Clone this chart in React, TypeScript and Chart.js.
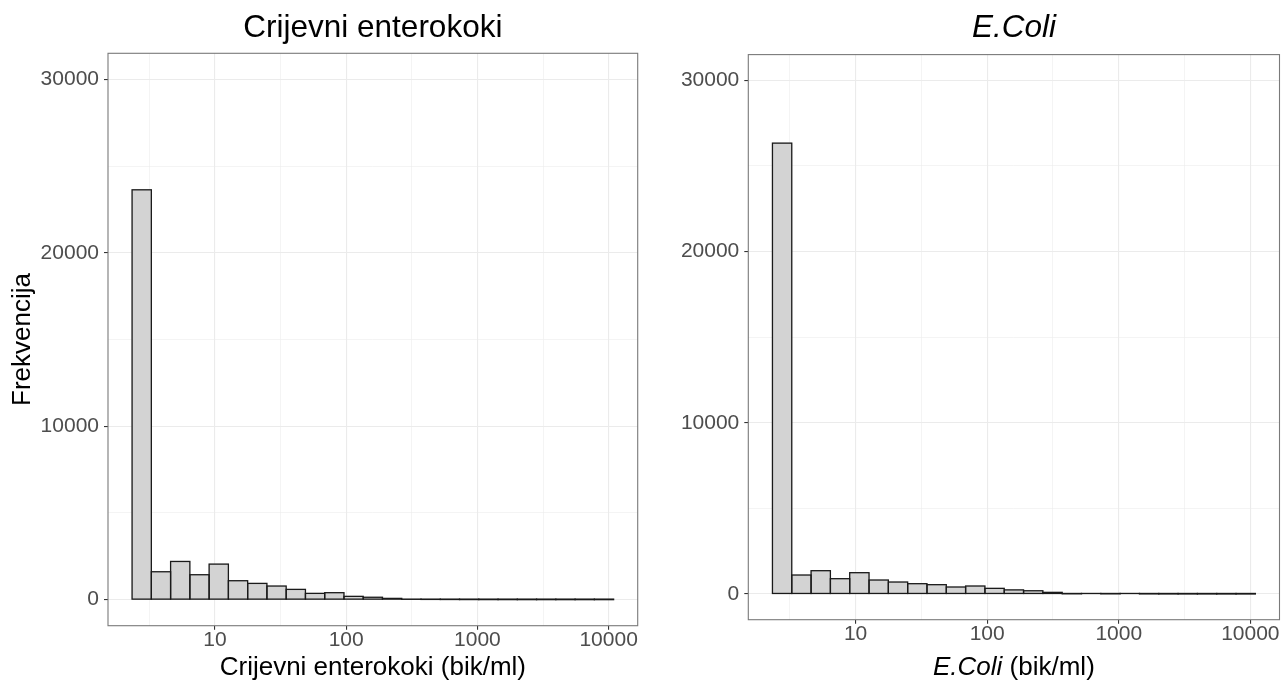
import React, { useEffect, useRef } from "react";
import { Chart, registerables } from "chart.js";

Chart.register(...registerables);

const FONT = '"Liberation Sans", Arial, Helvetica, sans-serif';
Chart.defaults.font.family = FONT;

// Histogram bins on a log10 axis (bik/ml)
const BIN_START_LOG = 0.368; // log10 of the lowest bin edge
const BIN_WIDTH_LOG = 0.1468; // width of one bin in decades
const BIN_COUNT = 25;

// Frequencies per bin
const enterokokiCounts = [
  23630, 1610, 2204, 1438, 2051, 1093, 939, 786, 594, 364, 403, 192, 140, 75, 22, 15, 10, 6, 4, 3,
  2, 2, 1, 1, 1,
];
const ecoliCounts = [
  26330, 1109, 1362, 895, 1245, 817, 700, 603, 545, 409, 467, 331, 240, 190, 97, 12, 30, 10, 30, 6,
  3, 2, 2, 1, 1,
];

// Axis ticks
const xMajorLogs = [1, 2, 3, 4];
const xMajorLabels = ["10", "100", "1000", "10000"];
const xMinorLogs = [0.5, 1.5, 2.5, 3.5];
const yMajorTicks = [0, 10000, 20000, 30000];
const yMinorTicks = [5000, 15000, 25000];
const Y_LIMITS = [0, 30000];

type Seg = { text: string; italic?: boolean };

const binCenters = Array.from({ length: BIN_COUNT }, (_, i) => BIN_START_LOG + (i + 0.5) * BIN_WIDTH_LOG);
const dataMin = BIN_START_LOG;
const dataMax = BIN_START_LOG + BIN_COUNT * BIN_WIDTH_LOG;
const X_MIN = dataMin - 0.05 * (dataMax - dataMin);
const X_MAX = dataMax + 0.05 * (dataMax - dataMin);
const Y_MIN = Y_LIMITS[0] - 0.05 * (Y_LIMITS[1] - Y_LIMITS[0]);
const Y_MAX = Y_LIMITS[1] + 0.05 * (Y_LIMITS[1] - Y_LIMITS[0]);

const xTickList = [...xMinorLogs, ...xMajorLogs].sort((a, b) => a - b);
const yTickList = [...yMinorTicks, ...yMajorTicks].sort((a, b) => a - b);

function drawRich(ctx: CanvasRenderingContext2D, segs: Seg[], cx: number, y: number, size: number) {
  const widths = segs.map((s) => {
    ctx.font = `${s.italic ? "italic " : ""}${size}px ${FONT}`;
    return ctx.measureText(s.text).width;
  });
  const total = widths.reduce((a, b) => a + b, 0);
  let x = cx - total / 2;
  ctx.textAlign = "left";
  ctx.textBaseline = "alphabetic";
  segs.forEach((s, i) => {
    ctx.font = `${s.italic ? "italic " : ""}${size}px ${FONT}`;
    ctx.fillText(s.text, x, y);
    x += widths[i];
  });
}

type PanelProps = {
  left: number;
  counts: number[];
  title: Seg[];
  xTitle: Seg[];
  yTitle?: string;
  yAxisWidth: number;
  padTop: number;
  padRight: number;
  xAxisHeight: number;
};

const W = 641;
const H = 682;

function Panel(p: PanelProps) {
  const ref = useRef<HTMLCanvasElement | null>(null);
  useEffect(() => {
    if (!ref.current) return;
    const outlinePlugin = {
      id: "barOutline",
      afterDatasetsDraw(chart: any) {
        const ctx = chart.ctx as CanvasRenderingContext2D;
        const meta = chart.getDatasetMeta(0);
        ctx.save();
        ctx.strokeStyle = "#1A1A1A";
        ctx.lineWidth = 1.3;
        meta.data.forEach((el: any) => {
          const { x, y, base, width } = el.getProps(["x", "y", "base", "width"], true);
          ctx.strokeRect(x - width / 2, Math.min(y, base), width, Math.abs(base - y));
        });
        ctx.restore();
      },
    };
    const framePlugin = {
      id: "frameAndTitles",
      afterDraw(chart: any) {
        const ctx = chart.ctx as CanvasRenderingContext2D;
        const a = chart.chartArea;
        ctx.save();
        ctx.strokeStyle = "#7A7A7A";
        ctx.lineWidth = 1.1;
        ctx.strokeRect(a.left, a.top, a.right - a.left, a.bottom - a.top);
        ctx.fillStyle = "#000000";
        const cx = (a.left + a.right) / 2;
        drawRich(ctx, p.title, cx, 37, 31.5);
        drawRich(ctx, p.xTitle, cx, 675, 26);
        ctx.restore();
      },
    };
    const chart = new Chart(ref.current, {
      type: "bar",
      data: {
        datasets: [
          {
            data: p.counts.map((c, i) => ({ x: binCenters[i], y: c })),
            backgroundColor: "#D3D3D3",
            borderWidth: 0,
            barPercentage: 1,
            categoryPercentage: 1,
            grouped: false,
          } as any,
        ],
      },
      options: {
        responsive: false,
        animation: false,
        events: [],
        layout: { padding: { top: p.padTop, right: p.padRight, left: 0, bottom: 0 } },
        plugins: {
          legend: { display: false },
          tooltip: { enabled: false },
          title: { display: false },
        },
        scales: {
          x: {
            type: "linear",
            min: X_MIN,
            max: X_MAX,
            offset: false,
            afterBuildTicks: (s: any) => {
              s.ticks = xTickList.map((v) => ({ value: v }));
            },
            afterFit: (s: any) => {
              s.height = p.xAxisHeight;
              s.paddingLeft = 0;
              s.paddingRight = 0;
            },
            ticks: {
              autoSkip: false,
              maxRotation: 0,
              minRotation: 0,
              padding: 0,
              color: "#4D4D4D",
              font: { family: FONT, size: 21, lineHeight: 1 },
              callback: (v: any) => {
                const i = xMajorLogs.indexOf(Number(v));
                return i >= 0 ? xMajorLabels[i] : "";
              },
            },
            grid: {
              offset: false,
              color: "#EBEBEB",
              lineWidth: (c: any) => (xMajorLogs.includes(c.tick?.value) ? 1.1 : 0.55),
              tickLength: 4,
              tickWidth: 1.1,
              tickColor: (c: any) => (xMajorLogs.includes(c.tick?.value) ? "#333333" : "rgba(0,0,0,0)"),
            },
            border: { display: false },
          },
          y: {
            type: "linear",
            min: Y_MIN,
            max: Y_MAX,
            afterBuildTicks: (s: any) => {
              s.ticks = yTickList.map((v) => ({ value: v }));
            },
            afterFit: (s: any) => {
              s.width = p.yAxisWidth;
              s.paddingTop = 0;
              s.paddingBottom = 0;
            },
            ticks: {
              autoSkip: false,
              padding: 5,
              color: "#4D4D4D",
              font: { family: FONT, size: 21 },
              callback: (v: any) => (yMajorTicks.includes(Number(v)) ? String(v) : ""),
            },
            grid: {
              offset: false,
              color: "#EBEBEB",
              lineWidth: (c: any) => (yMajorTicks.includes(c.tick?.value) ? 1.1 : 0.55),
              tickLength: 4,
              tickWidth: 1.1,
              tickColor: (c: any) => (yMajorTicks.includes(c.tick?.value) ? "#333333" : "rgba(0,0,0,0)"),
            },
            border: { display: false },
            title: {
              display: !!p.yTitle,
              text: p.yTitle || "",
              color: "#000000",
              font: { family: FONT, size: 26 },
              padding: { top: 7, bottom: 0 },
            },
          },
        },
      } as any,
      plugins: [outlinePlugin, framePlugin],
    });
    return () => chart.destroy();
  }, []);
  return (
    <canvas
      ref={ref}
      width={W}
      height={H}
      style={{ position: "absolute", left: p.left, top: 0, width: W, height: H }}
    />
  );
}

export default function App() {
  return (
    <div
      style={{
        position: "fixed",
        left: 0,
        top: 0,
        width: 1282,
        height: 682,
        background: "#FFFFFF",
        overflow: "hidden",
      }}
    >
      <Panel
        left={0}
        counts={enterokokiCounts}
        title={[{ text: "Crijevni enterokoki" }]}
        xTitle={[{ text: "Crijevni enterokoki (bik/ml)" }]}
        yTitle="Frekvencija"
        yAxisWidth={108}
        padTop={53.3}
        padRight={3.3}
        xAxisHeight={56.3}
      />
      <Panel
        left={641}
        counts={ecoliCounts}
        title={[{ text: "E.Coli", italic: true }]}
        xTitle={[{ text: "E.Coli", italic: true }, { text: " (bik/ml)" }]}
        yAxisWidth={107.3}
        padTop={54.6}
        padRight={2.5}
        xAxisHeight={62.3}
      />
    </div>
  );
}
